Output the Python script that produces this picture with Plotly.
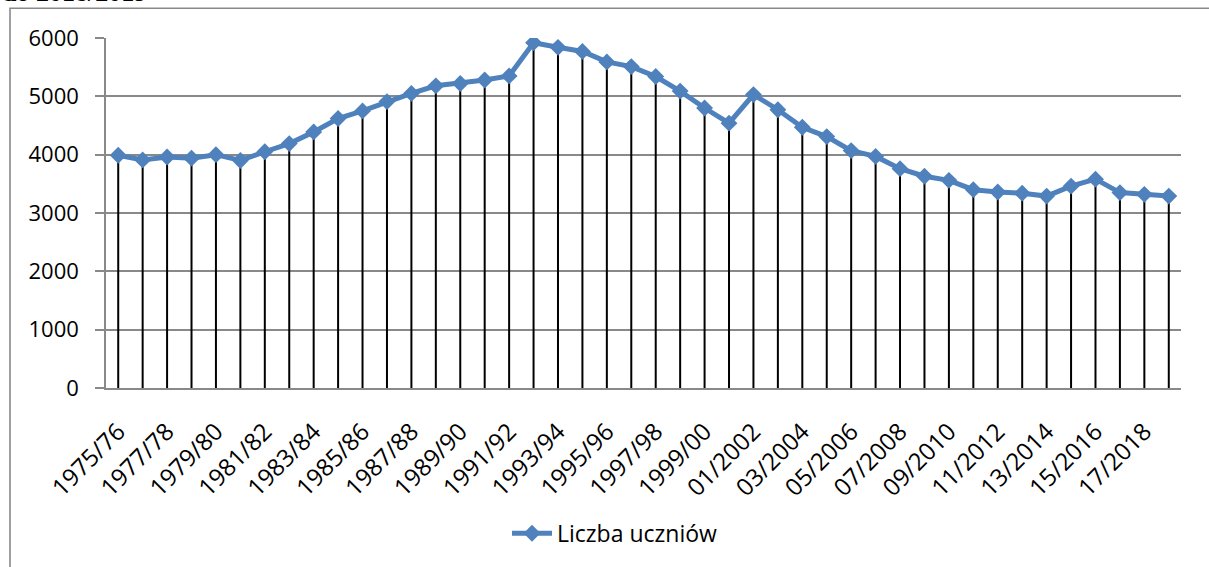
import plotly.graph_objects as go

years = [
    "1975/76", "1976/77", "1977/78", "1978/79", "1979/80", "1980/81", "1981/82", "1982/83",
    "1983/84", "1984/85", "1985/86", "1986/87", "1987/88", "1988/89", "1989/90", "1990/91",
    "1991/92", "1992/93", "1993/94", "1994/95", "1995/96", "1996/97", "1997/98", "1998/99",
    "1999/00", "2000/01", "01/2002", "02/2003", "03/2004", "04/2005", "05/2006", "06/2007",
    "07/2008", "08/2009", "09/2010", "10/2011", "11/2012", "12/2013", "13/2014", "14/2015",
    "15/2016", "16/2017", "17/2018", "18/2019",
]
students = [
    3990, 3910, 3960, 3940, 4000, 3900, 4050, 4190,
    4390, 4620, 4750, 4910, 5050, 5180, 5220, 5280,
    5350, 5920, 5840, 5770, 5590, 5510, 5340, 5090,
    4800, 4540, 5030, 4770, 4470, 4310, 4070, 3970,
    3760, 3630, 3560, 3400, 3360, 3340, 3290, 3460,
    3580, 3350, 3320, 3290,
]
tick_labels = years[::2]
series_name = "Liczba uczniów"
heading = "do 2018/2019"

FONT = "Open Sans"
BLUE = "#4F81BD"
GREY = "#898989"

fig = go.Figure()

# drop lines from each point to the axis
fig.add_trace(go.Scatter(
    x=years, y=students, mode="markers",
    marker=dict(size=1, opacity=0),
    error_y=dict(type="data", symmetric=False,
                 array=[0] * len(students), arrayminus=students,
                 color="black", thickness=2, width=0),
    showlegend=False, hoverinfo="skip",
))

fig.add_trace(go.Scatter(
    x=years, y=students, mode="lines+markers", name=series_name,
    line=dict(color=BLUE, width=5),
    marker=dict(symbol="diamond", size=13, color=BLUE),
))

fig.update_layout(
    width=1209, height=567,
    margin=dict(l=106, r=28, t=38, b=179),
    paper_bgcolor="white", plot_bgcolor="white",
    font=dict(family=FONT, size=22, color="black"),
    showlegend=True,
    legend=dict(orientation="h", x=0.4735, xanchor="center", y=-0.415, yanchor="middle",
                font=dict(family=FONT, size=23, color="black"), itemwidth=40),
    xaxis=dict(
        type="category", tickmode="array", tickvals=tick_labels, ticktext=tick_labels,
        tickangle=-45, showgrid=False, showline=True, linecolor=GREY, linewidth=2,
        ticks="", ticklabelstandoff=18, tickfont=dict(family=FONT, size=24, color="black"),
        range=[-0.5, len(years) - 0.5], zeroline=False,
    ),
    yaxis=dict(
        range=[0, 6000], dtick=1000, tick0=0, showgrid=True, gridcolor=GREY, gridwidth=1.6,
        showline=True, linecolor=GREY, linewidth=1.6, ticks="outside", ticklen=9,
        tickcolor=GREY, tickwidth=1.6, ticklabelstandoff=12, zeroline=False,
        tickfont=dict(family=FONT, size=22, color="black"),
    ),
    shapes=[dict(type="rect", xref="paper", yref="paper",
                 x0=-0.0893, x1=1.3, y0=-0.8, y1=1.0849,
                 line=dict(color=GREY, width=1.6), fillcolor="rgba(0,0,0,0)", layer="below")],
    annotations=[dict(text="<b>" + heading + "</b>", xref="paper", yref="paper",
                      x=-0.0985, xanchor="left", y=1.0826, yanchor="bottom", showarrow=False,
                      font=dict(family="Liberation Serif", size=26, color="black"))],
)

fig.write_html("out.html", config={"displayModeBar": False},
               post_script="document.body.style.margin='0';")
